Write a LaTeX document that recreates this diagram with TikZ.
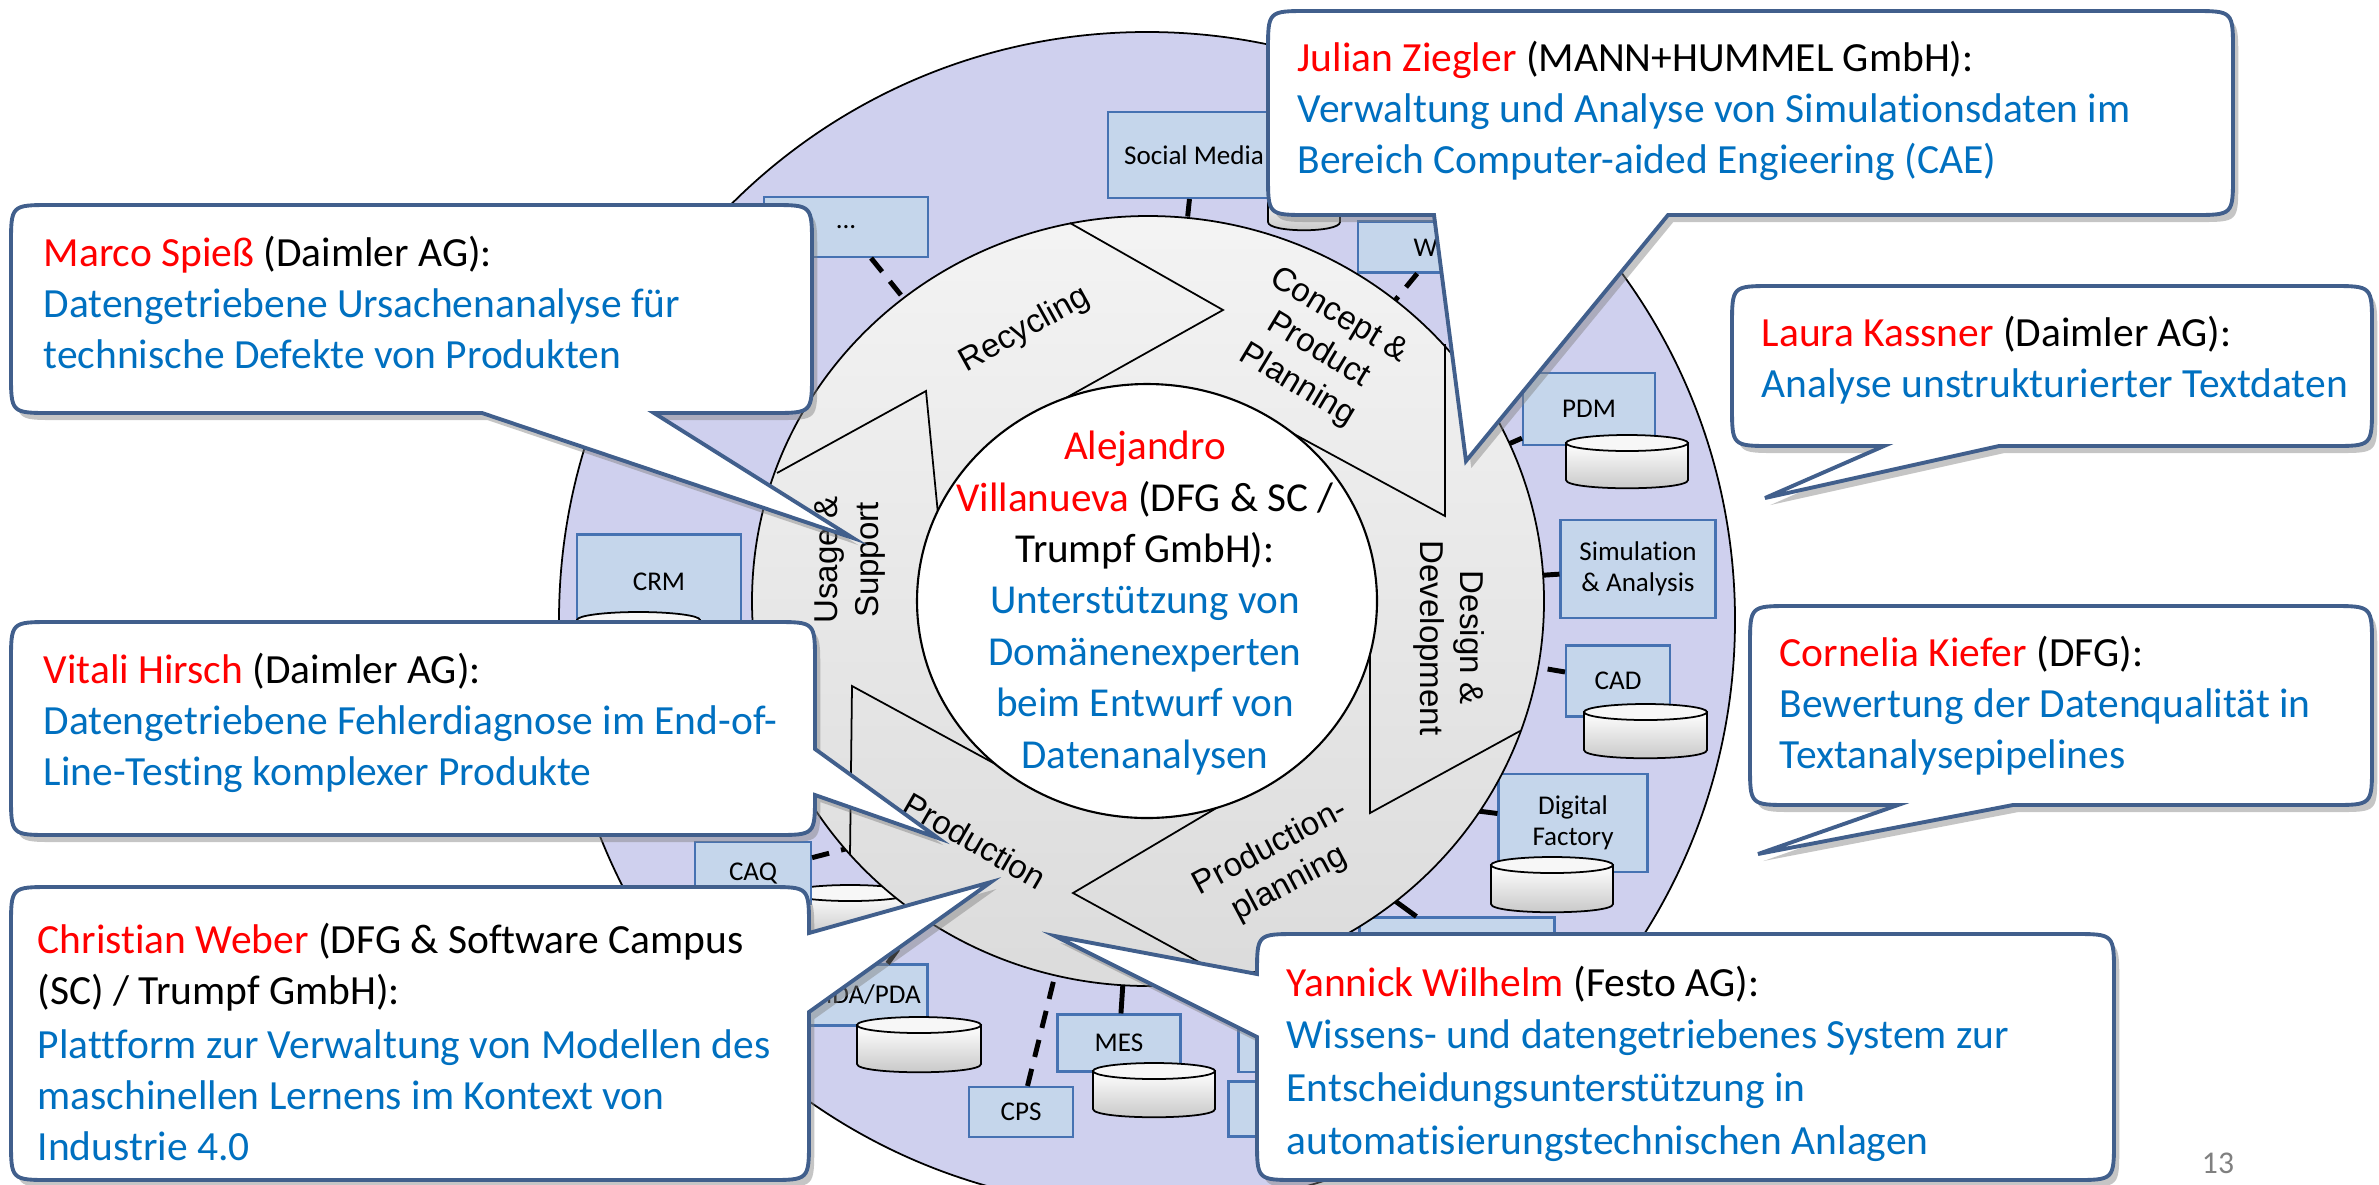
\documentclass[tikz,border=0pt]{standalone}
\usepackage{fontspec}
\setmainfont{Carlito}[Ligatures=NoCommon]
\newfontfamily\arialfont{Liberation Sans}
\usetikzlibrary{shadows, positioning}

\definecolor{lavender}{RGB}{207,208,238}
\definecolor{boxfill}{RGB}{197,214,235}
\definecolor{boxline}{RGB}{70,114,178}
\definecolor{bubbleline}{RGB}{65,95,140}
\definecolor{namered}{RGB}{255,0,0}
\definecolor{topicblue}{RGB}{0,112,192}

\newcommand{\who}[1]{\textcolor{namered}{#1}}
\newcommand{\topic}[1]{\textcolor{topicblue}{#1}}
% database disk: left x, top y, right x, bottom y
\newcommand{\dbdisk}[4]{%
  \shade[top color=white, bottom color=gray!45, draw=black, line width=0.5pt]
    (#1,#2) -- (#1,#4) .. controls (#1,{#4+11}) and (#3,{#4+11}) .. (#3,#4) -- (#3,#2) -- cycle;
  \filldraw[fill=gray!6, draw=black, line width=0.5pt] ({(#1+#3)/2},#2) ellipse ({(#3-#1)/2} and 8);
}

\begin{document}
\begin{tikzpicture}[x=0.01cm, y=-0.01cm,
    sysbox/.style={draw=boxline, fill=boxfill, line width=0.6pt, inner sep=0pt,
      align=center, font=\fontsize{7.7}{8.9}\selectfont},
    boxsize/.style 2 args={minimum width=#1*0.01cm, minimum height=#2*0.01cm},
    link/.style={line width=1.4pt, dash pattern=on 5pt off 3.5pt},
    solidlink/.style={line width=1.4pt},
    phase/.style={font=\arialfont\fontsize{9.4}{11.5}\selectfont, align=center, inner sep=0pt},
    lead/.style={font=\fontsize{11.7}{14.6}\selectfont, align=center, inner sep=0pt},
    bubble/.style={fill=white, draw=bubbleline, line width=1.1pt,
      drop shadow={shadow xshift=1.5pt, shadow yshift=-2pt, opacity=0.45}},
    bubbletext/.style={anchor=north west, align=left, inner sep=0pt,
      font=\fontsize{11.8}{14.5}\selectfont}]
  \useasboundingbox (0,0) rectangle (2379,1184);
  \fill[white] (0,0) rectangle (2379,1184);
  \clip (0,0) rectangle (2379,1184);

  % lifecycle background
  \filldraw[fill=lavender, draw=black, line width=0.5pt] (1147,620) circle (588);
  \coordinate (hub) at (1148,601);
  \coordinate (dfring) at (1470,810);
  \coordinate (hidring) at (1380,890);
  \coordinate (caqring) at (880,840);

  % IT systems
  \node[sysbox, boxsize={164}{60}] (dots) at (846,227) {...};
  \node[sysbox, boxsize={172}{86}] (social) at (1194,155) {Social Media};
  \node[sysbox, boxsize={162}{51}] (web) at (1439,247) {Web};
  \node[sysbox, boxsize={132}{72}] (pdm) at (1589,409) {PDM};
  \node[sysbox, boxsize={155}{98}] (sim) at (1638,569) {Simulation\\\& Analysis};
  \node[sysbox, boxsize={104}{71}] (cad) at (1618,681) {CAD};
  \node[sysbox, boxsize={149}{98}] (df) at (1573,823) {Digital\\Factory};
  \node[sysbox, boxsize={195}{57}] (hiddenA) at (1457,946) {};
  \node[sysbox, boxsize={101}{48}] (sliverA) at (1289,1048) {};
  \node[sysbox, boxsize={101}{55}] (sliverB) at (1279,1109) {};
  \node[sysbox, boxsize={123}{57}] (mes) at (1119,1043) {MES};
  \node[sysbox, boxsize={104}{50}] (cps) at (1021,1112) {CPS};
  \node[sysbox, boxsize={125}{61}] (mdapda) at (865,995) {MDA/PDA};
  \node[sysbox, boxsize={164}{95}] (crm) at (659,582) {CRM};

  % connectors to the cycle
  \draw[link] (dots) -- (hub);
  \draw[link] (social) -- (hub);
  \draw[link] (web) -- (hub);
  \draw[link] (pdm) -- (hub);
  \draw[solidlink] (sim) -- (hub);
  \draw[link] (cad) -- (hub);
  \draw[solidlink] (df) -- (dfring);
  \draw[solidlink] (hiddenA) -- (hidring);
  \draw[solidlink] (mes) -- (hub);
  \draw[link] (cps) -- (hub);
  \draw[link] (mdapda) -- (hub);

  \dbdisk{789}{893}{911}{929}
  \node[sysbox, boxsize={116}{62}] (caq) at (753,873) {CAQ};
  \draw[link] (caq) -- (caqring);

  \dbdisk{1268}{192}{1340}{222}
  \dbdisk{1566}{443}{1688}{480}
  \dbdisk{1584}{712}{1707}{750}
  \dbdisk{1491}{865}{1613}{904}
  \dbdisk{1093}{1071}{1215}{1109}
  \dbdisk{857}{1025}{981}{1064}
  \dbdisk{577}{620}{700}{657}

  % cycle of phases
  \shade[top color=gray!9, bottom color=gray!28] (1148,601) ellipse (396 and 385);
  \draw[line width=0.5pt] (1148,601) ellipse (396 and 385);
  \draw[line width=0.5pt] (777,473) -- (926,391) -- (941,545);
  \draw[line width=0.5pt] (1070,223) -- (1223,310) -- (1030,418);
  \draw[line width=0.5pt] (1445,344) -- (1445,516) -- (1270,421);
  \draw[line width=0.5pt] (1520,731) -- (1370,813) -- (1370,640);
  \draw[line width=0.5pt] (1228,978) -- (1073,893) -- (1240,794);
  \draw[line width=0.5pt] (850,855) -- (852,686) -- (1010,772);
  \filldraw[fill=white, draw=black, line width=0.6pt] (1147,601) ellipse (230 and 217);

  \node[phase, rotate=29] (recycling) at (1025,330) {Recycling};
  \node[phase, rotate=-31] (concept) at (1318,351) {Concept \&\\Product\\Planning};
  \node[phase, rotate=-90] (design) at (1449,638) {Design \&\\Development};
  \node[phase, rotate=28] (pplan) at (1280,866) {Production-\\planning};
  \node[phase, rotate=-30] (production) at (975,841) {Production};
  \node[phase, rotate=90] (usage) at (850,560) {Usage \&\\Support};

  \node[lead] (alejandro) at (1145,603) {\who{Alejandro}\\\who{Villanueva} (DFG \& SC /\\Trumpf GmbH):\\
    \topic{Unterstützung von}\\\topic{Domänenexperten}\\\topic{beim Entwurf von}\\\topic{Datenanalysen}};

  % speech bubbles
  \path[bubble] (1308,11) -- (2193,11) .. controls (2233,11) .. (2233,51) -- (2233,175)
    .. controls (2233,215) .. (2193,215) -- (1668,215) -- (1466,461) -- (1434,215) -- (1308,215)
    .. controls (1268,215) .. (1268,175) -- (1268,51) .. controls (1268,11) .. (1308,11) -- cycle;
  \node[bubbletext] (julian) at (1297,40) {\who{Julian Ziegler} (MANN+HUMMEL GmbH):\\
    \topic{Verwaltung und Analyse von Simulationsdaten im}\\\topic{Bereich Computer-aided Engieering (CAE)}};

  \path[bubble] (51,205) -- (772,205) .. controls (812,205) .. (812,245) -- (812,373)
    .. controls (812,413) .. (772,413) -- (654,413) -- (853,538) -- (482,413) -- (51,413)
    .. controls (11,413) .. (11,373) -- (11,245) .. controls (11,205) .. (51,205) -- cycle;
  \node[bubbletext] (marco) at (43,235) {\who{Marco Spieß} (Daimler AG):\\
    \topic{Datengetriebene Ursachenanalyse für}\\\topic{technische Defekte von Produkten}};

  \path[bubble] (1772,286) -- (2332,286) .. controls (2372,286) .. (2372,326) -- (2372,406)
    .. controls (2372,446) .. (2332,446) -- (1999,446) -- (1765,498) -- (1884,446) -- (1772,446)
    .. controls (1732,446) .. (1732,406) -- (1732,326) .. controls (1732,286) .. (1772,286) -- cycle;
  \node[bubbletext] (laura) at (1761,315) {\who{Laura Kassner} (Daimler AG):\\
    \topic{Analyse unstrukturierter Textdaten}};

  \path[bubble] (51,622) -- (775,622) .. controls (815,622) .. (815,662) -- (815,749)
    -- (938,838) -- (815,795) .. controls (815,835) .. (775,835) -- (51,835)
    .. controls (11,835) .. (11,795) -- (11,662) .. controls (11,622) .. (51,622) -- cycle;
  \node[bubbletext] (vitali) at (43,652) {\who{Vitali Hirsch} (Daimler AG):\\
    \topic{Datengetriebene Fehlerdiagnose im End-of-}\\\topic{Line-Testing komplexer Produkte}};

  \path[bubble] (1790,606) -- (2332,606) .. controls (2372,606) .. (2372,646) -- (2372,765)
    .. controls (2372,805) .. (2332,805) -- (2013,805) -- (1758,854) -- (1898,805) -- (1790,805)
    .. controls (1750,805) .. (1750,765) -- (1750,646) .. controls (1750,606) .. (1790,606) -- cycle;
  \node[bubbletext] (cornelia) at (1779,635) {\who{Cornelia Kiefer} (DFG):\\
    \topic{Bewertung der Datenqualität in}\\\topic{Textanalysepipelines}};

  \path[bubble] (51,887) -- (769,887) .. controls (809,887) .. (809,927) -- (809,933)
    -- (991,882) -- (809,1012) -- (809,1140) .. controls (809,1180) .. (769,1180) -- (51,1180)
    .. controls (11,1180) .. (11,1140) -- (11,927) .. controls (11,887) .. (51,887) -- cycle;
  \node[bubbletext] (christian) at (37,922) {\who{Christian Weber} (DFG \& Software Campus\\
    (SC) / Trumpf GmbH):\\[1pt]\topic{Plattform zur Verwaltung von Modellen des}\\
    \topic{maschinellen Lernens im Kontext von}\\\topic{Industrie 4.0}};

  \path[bubble] (1297,934) -- (2074,934) .. controls (2114,934) .. (2114,974) -- (2114,1140)
    .. controls (2114,1180) .. (2074,1180) -- (1297,1180) .. controls (1257,1180) .. (1257,1140)
    -- (1257,1037) -- (1055,936) -- (1257,974) .. controls (1257,934) .. (1297,934) -- cycle;
  \node[bubbletext, font=\fontsize{11.8}{15}\selectfont] (yannick) at (1286,965) {\who{Yannick Wilhelm} (Festo AG):\\
    \topic{Wissens- und datengetriebenes System zur}\\\topic{Entscheidungsunterstützung in}\\
    \topic{automatisierungstechnischen Anlagen}};

  \node[font=\fontsize{9}{10}\selectfont, text=gray] (pagenum) at (2218,1163) {13};
\end{tikzpicture}
\end{document}
